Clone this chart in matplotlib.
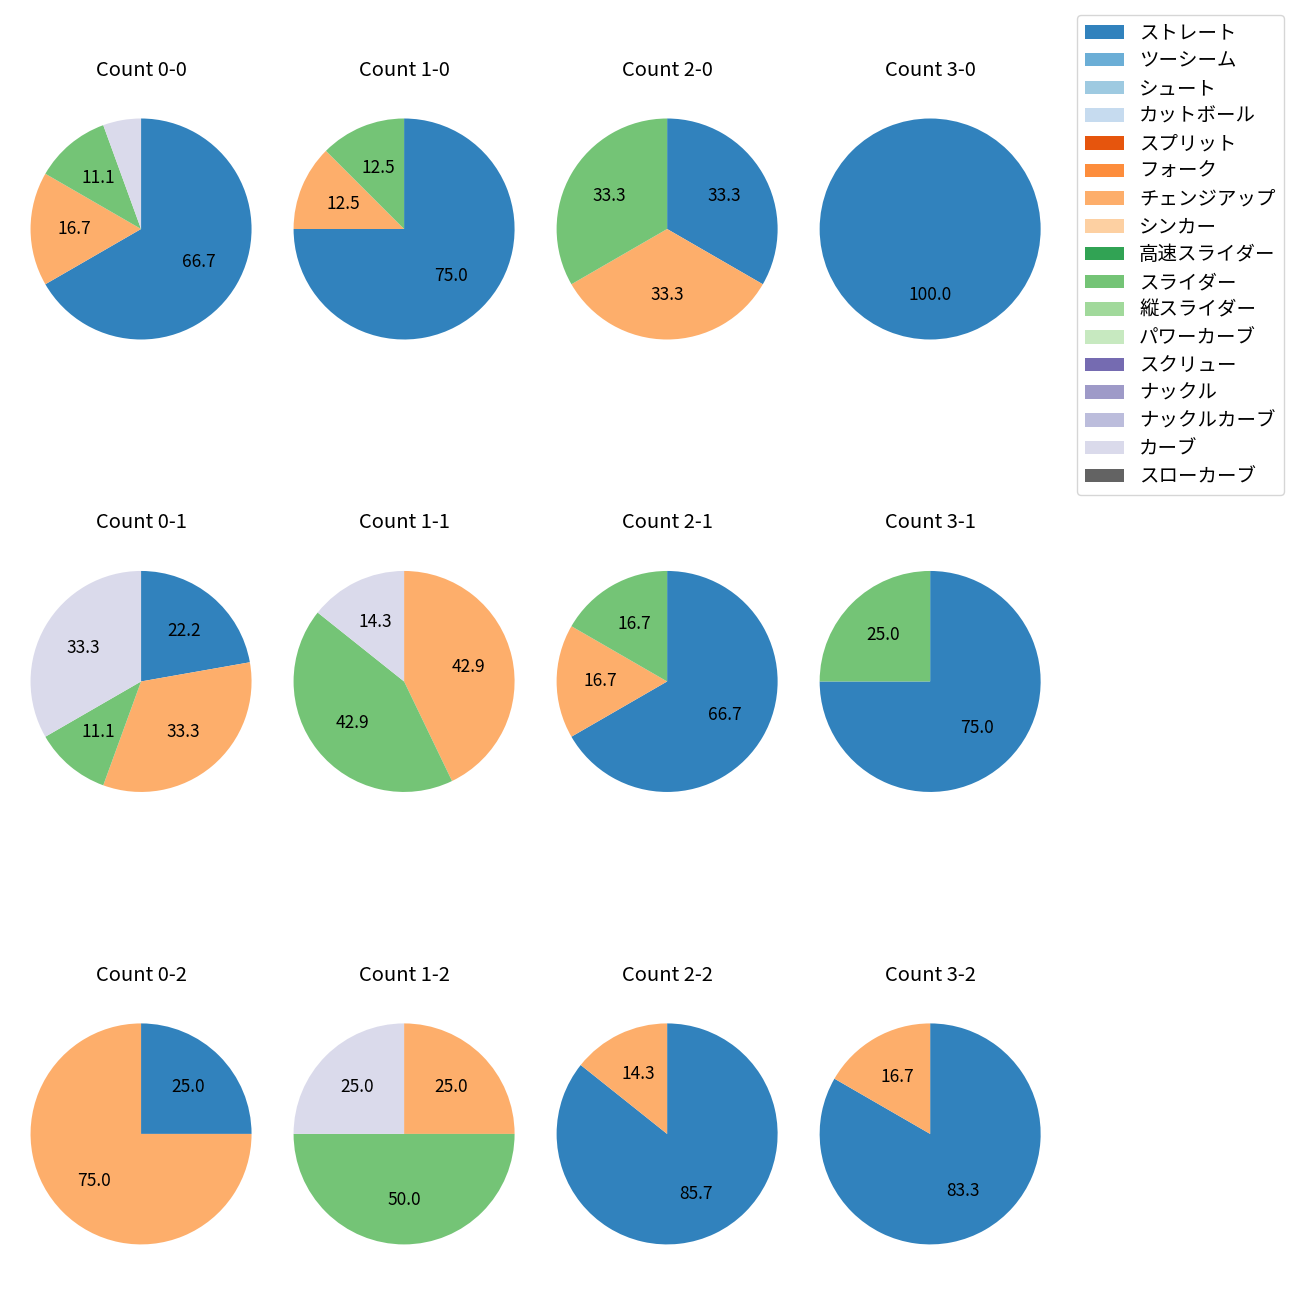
import matplotlib
matplotlib.use("Agg")
import matplotlib.pyplot as plt
from matplotlib.patches import Patch

plt.rcParams['font.family'] = ['Noto Sans CJK JP', 'DejaVu Sans']

pitch_names = ["ストレート", "ツーシーム", "シュート", "カットボール", "スプリット", "フォーク",
               "チェンジアップ", "シンカー", "高速スライダー", "スライダー", "縦スライダー",
               "パワーカーブ", "スクリュー", "ナックル", "ナックルカーブ", "カーブ", "スローカーブ"]
pitch_colors = ["#3182bd", "#6baed6", "#9ecae1", "#c6dbef", "#e6550d", "#fd8d3c",
                "#fdae6b", "#fdd0a2", "#31a354", "#74c476", "#a1d99b", "#c7e9c0",
                "#756bb1", "#9e9ac8", "#bcbddc", "#dadaeb", "#636363"]

# pitch counts per ball-strike count: (ストレート, チェンジアップ, スライダー, カーブ)
used = ["ストレート", "チェンジアップ", "スライダー", "カーブ"]
count_labels = ["0-0", "1-0", "2-0", "3-0",
                "0-1", "1-1", "2-1", "3-1",
                "0-2", "1-2", "2-2", "3-2"]
straight = [12, 6, 1, 1, 2, 0, 4, 3, 1, 0, 6, 5]
changeup = [3, 1, 1, 0, 3, 3, 1, 0, 3, 1, 1, 1]
slider   = [2, 1, 1, 0, 1, 3, 1, 1, 0, 2, 0, 0]
curve    = [1, 0, 0, 0, 3, 1, 0, 0, 0, 1, 0, 0]

fig, axes = plt.subplots(3, 4, figsize=(13, 13), dpi=100)
plt.subplots_adjust(left=0.015, right=0.809, bottom=0.0162, top=0.9354, wspace=0.082, hspace=0.56)

color_of = dict(zip(pitch_names, pitch_colors))

for i, ax in enumerate(axes.flat):
    vals = [straight[i], changeup[i], slider[i], curve[i]]
    sizes = [v for v in vals if v > 0]
    cols = [color_of[n] for n, v in zip(used, vals) if v > 0]
    ax.pie(sizes, colors=cols, startangle=90, counterclock=False,
           autopct=lambda p: f"{p:.1f}" if p >= 10 else "",
           textprops={'fontsize': 12.5})
    ax.set_xlim(-1.1, 1.1)
    ax.set_ylim(-1.1, 1.1)
    ax.set_aspect('equal', adjustable='datalim')
    ax.set_title(f"Count {count_labels[i]}", fontsize=14.5)

handles = [Patch(facecolor=c, label=n) for n, c in zip(pitch_names, pitch_colors)]
fig.legend(handles=handles, loc='upper left', bbox_to_anchor=(1077 / 1300, 1 - 15 / 1300),
           borderaxespad=0, fontsize=14, labelspacing=0.345)

plt.savefig("out.png")
